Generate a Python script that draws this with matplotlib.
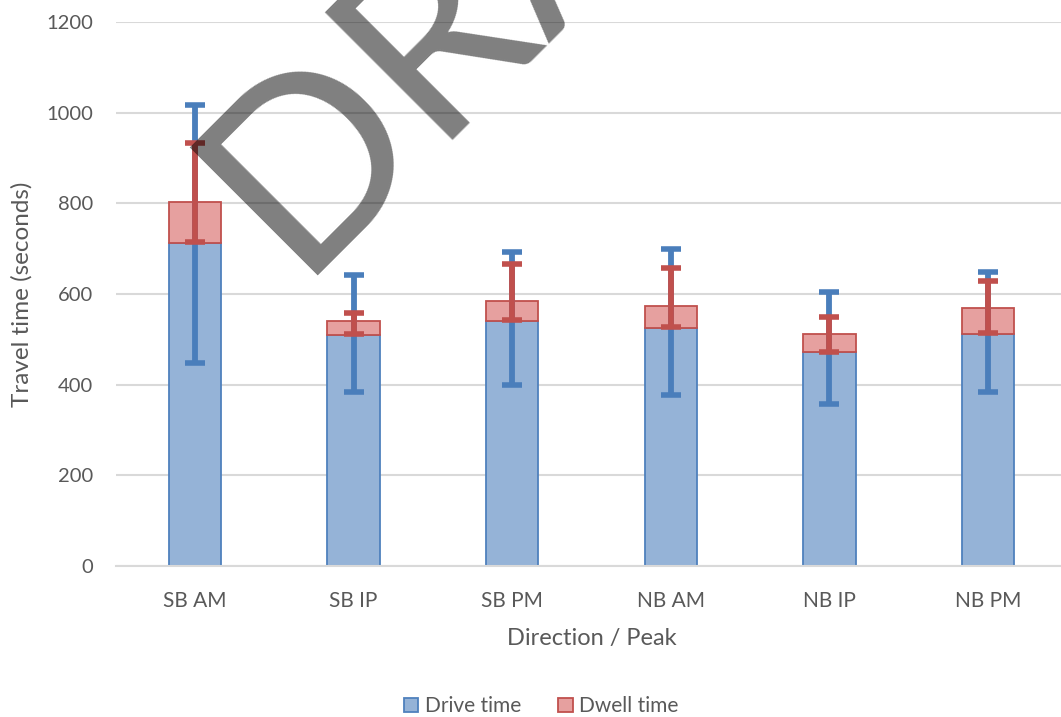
import matplotlib.pyplot as plt
import numpy as np

plt.rcParams['font.family'] = ['Lato', 'DejaVu Sans']

categories = ['SB AM', 'SB IP', 'SB PM', 'NB AM', 'NB IP', 'NB PM']
drive_time = [713, 510, 540, 525, 472, 512]
dwell_time = [90, 30, 45, 49, 40, 57]

# error bar ends (seconds)
drive_upper = [1017, 642, 693, 699, 605, 649]
drive_lower = [448, 384, 399, 377, 357, 384]
dwell_upper = [933, 558, 666, 657, 549, 629]
dwell_lower = [715, 512, 542, 528, 473, 514]

grey = '#595959'
x = np.arange(len(categories))
drive = np.array(drive_time)
total = drive + np.array(dwell_time)

fig = plt.figure(figsize=(10.61, 7.17), dpi=100, facecolor='white')
ax = fig.add_axes([0.109, 0.2106, 0.897, 0.7587])

ax.bar(x, drive, width=0.33, color='#95b3d7', edgecolor='#4f81bd', linewidth=1.3,
       label='Drive time', zorder=2)
ax.bar(x, dwell_time, width=0.33, bottom=drive, color='#e6a09f', edgecolor='#c0504d',
       linewidth=1.3, label='Dwell time', zorder=2)

ax.errorbar(x, drive, yerr=[drive - np.array(drive_lower), np.array(drive_upper) - drive],
            fmt='none', ecolor='#4a7ebb', elinewidth=4.2, capsize=7, capthick=4, zorder=3)
ax.errorbar(x, total, yerr=[total - np.array(dwell_lower), np.array(dwell_upper) - total],
            fmt='none', ecolor='#c0504d', elinewidth=4.2, capsize=7, capthick=4, zorder=4)

ax.set_xlim(-0.5, len(categories) - 0.5)
ax.set_ylim(0, 1200)
ax.set_yticks(range(0, 1201, 200))
ax.set_xticks(x)
ax.set_xticklabels(categories)
ax.tick_params(axis='both', length=0, labelsize=14.5, colors=grey)
ax.tick_params(axis='x', labelsize=15, pad=18)
ax.tick_params(axis='y', pad=16)
ax.grid(axis='y', color='#d9d9d9', linewidth=1.5, zorder=0)
ax.set_axisbelow(True)
for side in ['top', 'right', 'left']:
    ax.spines[side].set_visible(False)
ax.spines['bottom'].set_color('#d9d9d9')
ax.spines['bottom'].set_linewidth(1.5)

ax.set_xlabel('Direction / Peak', fontsize=17, color=grey, labelpad=12)
ax.set_ylabel('Travel time (seconds)', fontsize=17.5, color=grey, labelpad=10)

fig.legend(loc='center', bbox_to_anchor=(0.51, 0.015), ncol=2, frameon=False,
           fontsize=15, labelcolor=grey, handlelength=0.7, handleheight=0.7,
           handletextpad=0.3, columnspacing=1.8)

# watermark
fig.text(296 / 1061, 1 - 276 / 717, 'DRAFT', fontsize=182, color='black', alpha=0.5,
         rotation=45, rotation_mode='anchor', ha='left', va='baseline', zorder=10)

fig.savefig('out.png', dpi=100, facecolor='white')
